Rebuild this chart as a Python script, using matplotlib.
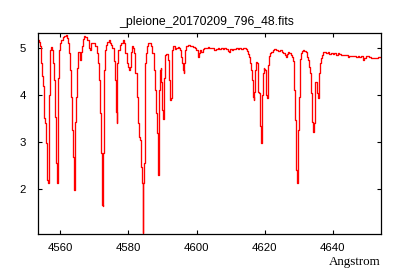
import matplotlib
matplotlib.use("Agg")
import matplotlib.pyplot as plt

wavelength = [
    4553.66, 4554.04, 4554.24, 4554.54, 4554.83, 4555.01, 4555.30, 4555.71, 4555.89, 4556.18,
    4556.48, 4556.59, 4556.77, 4556.89, 4557.06, 4557.36, 4557.77, 4558.06, 4558.36, 4558.65,
    4558.94, 4559.12, 4559.32, 4559.53, 4559.71, 4560.00, 4560.41, 4560.88, 4561.47, 4561.88,
    4562.17, 4562.47, 4562.76, 4563.05, 4563.35, 4563.64, 4563.94, 4564.11, 4564.32, 4564.52,
    4564.70, 4564.90, 4565.20, 4565.40, 4565.70, 4565.87, 4566.08, 4566.37, 4566.67, 4567.05,
    4567.55, 4568.05, 4568.52, 4568.81, 4569.10, 4569.52, 4570.10, 4570.48, 4570.87, 4571.28,
    4571.57, 4571.87, 4572.16, 4572.33, 4572.45, 4572.63, 4572.83, 4573.04, 4573.33, 4573.63,
    4574.01, 4574.30, 4574.60, 4575.10, 4575.48, 4575.77, 4576.06, 4576.36, 4576.65, 4576.86,
    4577.24, 4577.62, 4578.03, 4578.50, 4578.91, 4579.30, 4579.68, 4580.09, 4580.38, 4580.56,
    4580.85, 4581.15, 4581.56, 4581.85, 4582.23, 4582.61, 4583.03, 4583.32, 4583.61, 4583.91,
    4584.08, 4584.29, 4584.49, 4584.67, 4584.88, 4585.08, 4585.37, 4585.67, 4586.05, 4586.43,
    4586.84, 4587.23, 4587.52, 4587.81, 4588.11, 4588.40, 4588.69, 4588.90, 4589.08, 4589.28,
    4589.57, 4589.78, 4589.96, 4590.16, 4590.46, 4590.66, 4590.96, 4591.34, 4591.63, 4591.92,
    4592.22, 4592.42, 4592.60, 4592.80, 4593.01, 4593.30, 4593.60, 4593.89, 4594.27, 4594.66,
    4594.95, 4595.36, 4595.65, 4595.95, 4596.12, 4596.33, 4596.53, 4596.83, 4597.12, 4597.59,
    4597.89, 4598.39, 4598.88, 4599.27, 4599.77, 4600.15, 4600.44, 4600.65, 4600.94, 4601.23,
    4601.62, 4602.00, 4602.50, 4603.00, 4603.58, 4603.97, 4604.47, 4604.93, 4605.43, 4605.93,
    4606.40, 4606.90, 4607.40, 4607.87, 4608.37, 4608.87, 4609.34, 4609.63, 4610.13, 4610.51,
    4611.10, 4611.81, 4612.28, 4612.78, 4613.28, 4613.75, 4614.24, 4614.63, 4615.04, 4615.33,
    4615.63, 4615.92, 4616.21, 4616.39, 4616.59, 4616.80, 4616.98, 4617.18, 4617.39, 4617.56,
    4617.77, 4617.97, 4618.15, 4618.36, 4618.56, 4618.74, 4618.94, 4619.15, 4619.33, 4619.53,
    4619.74, 4619.91, 4620.12, 4620.32, 4620.50, 4620.71, 4620.91, 4621.09, 4621.29, 4621.59,
    4622.09, 4622.56, 4623.05, 4623.64, 4624.23, 4624.82, 4625.20, 4625.61, 4625.99, 4626.29,
    4626.58, 4626.96, 4627.37, 4627.76, 4628.05, 4628.34, 4628.55, 4628.72, 4628.93, 4629.14,
    4629.31, 4629.52, 4629.72, 4629.90, 4630.10, 4630.31, 4630.49, 4630.78, 4631.07, 4631.37,
    4631.78, 4632.16, 4632.54, 4632.95, 4633.25, 4633.54, 4633.72, 4633.92, 4634.13, 4634.30,
    4634.51, 4634.71, 4634.89, 4635.10, 4635.30, 4635.48, 4635.69, 4635.89, 4636.07, 4636.27,
    4636.57, 4636.86, 4637.24, 4637.74, 4638.24, 4638.71, 4639.21, 4639.71, 4640.18, 4640.68,
    4641.18, 4641.65, 4642.15, 4642.65, 4643.11, 4643.61, 4644.11, 4644.58, 4645.08, 4645.58,
    4646.05, 4646.55, 4647.05, 4647.52, 4648.02, 4648.52, 4648.99, 4649.40, 4649.99, 4650.46,
    4650.96, 4651.45, 4651.92, 4652.42, 4652.92, 4653.40, 4653.89, 4654.20,
]

flux = [
    5.17, 5.13, 5.03, 4.68, 4.39, 4.18, 3.51, 3.40, 2.98, 2.19,
    2.12, 3.11, 4.00, 4.68, 4.96, 5.01, 4.96, 4.68, 4.32, 3.54,
    2.55, 2.13, 2.55, 4.36, 4.96, 5.11, 5.17, 5.23, 5.24, 5.27,
    5.21, 5.10, 4.89, 4.53, 3.96, 3.26, 2.69, 1.98, 2.05, 3.43,
    3.96, 4.57, 4.67, 4.90, 4.92, 4.74, 4.90, 5.03, 5.18, 5.24,
    5.23, 5.17, 4.99, 4.96, 5.09, 5.11, 5.10, 5.03, 4.89, 4.67,
    4.32, 3.62, 2.77, 1.66, 1.64, 2.77, 3.62, 4.53, 4.96, 5.06,
    5.13, 5.16, 5.09, 5.06, 4.99, 4.71, 4.32, 3.64, 3.40, 4.67,
    4.96, 5.06, 5.11, 5.16, 5.10, 4.89, 4.67, 4.60, 4.53, 4.60,
    4.92, 5.04, 4.99, 4.89, 4.46, 3.96, 3.40, 3.11, 3.04, 2.47,
    2.12, 1.06, 2.12, 2.55, 3.96, 4.67, 4.89, 5.04, 5.10, 5.11,
    5.03, 4.89, 4.53, 4.11, 3.61, 3.19, 2.33, 2.30, 4.11, 4.53,
    4.57, 4.28, 3.68, 3.48, 3.68, 4.36, 4.85, 4.87, 4.74, 4.32,
    4.21, 3.89, 3.93, 4.53, 4.96, 5.03, 5.04, 4.97, 4.99, 5.01,
    4.99, 4.96, 4.81, 4.67, 4.53, 4.46, 4.67, 4.96, 5.04, 5.05,
    5.06, 5.04, 5.03, 5.01, 4.99, 4.96, 4.90, 4.81, 4.89, 4.96,
    4.90, 4.97, 4.99, 5.00, 5.01, 4.99, 4.99, 4.99, 4.96, 4.98,
    4.99, 4.98, 4.99, 4.98, 4.99, 4.98, 4.94, 4.92, 4.97, 4.96,
    4.97, 4.99, 4.97, 4.99, 4.98, 4.99, 4.99, 4.97, 4.94, 4.87,
    4.81, 4.67, 4.53, 4.32, 3.96, 3.89, 4.07, 4.53, 4.60, 4.69,
    4.67, 4.46, 4.07, 4.04, 3.96, 3.33, 2.97, 3.00, 4.00, 4.46,
    4.57, 4.55, 4.53, 4.11, 4.00, 3.93, 4.25, 4.64, 4.83, 4.89,
    4.92, 4.96, 4.97, 4.96, 4.94, 4.96, 4.92, 4.89, 4.85, 4.80,
    4.87, 4.92, 4.89, 4.85, 4.81, 4.71, 4.53, 4.11, 3.47, 2.90,
    2.40, 2.12, 2.40, 3.26, 3.96, 4.64, 4.76, 4.89, 4.94, 4.96,
    4.94, 4.90, 4.81, 4.74, 4.60, 4.46, 4.04, 3.43, 3.26, 3.22,
    3.40, 3.96, 4.28, 4.28, 4.07, 4.04, 3.93, 4.11, 4.46, 4.67,
    4.78, 4.85, 4.90, 4.90, 4.89, 4.90, 4.87, 4.89, 4.87, 4.89,
    4.85, 4.89, 4.86, 4.85, 4.85, 4.85, 4.84, 4.81, 4.82, 4.82,
    4.82, 4.83, 4.81, 4.82, 4.81, 4.82, 4.74, 4.78, 4.82, 4.83,
    4.81, 4.78, 4.78, 4.78, 4.78, 4.81, 4.80, 4.80,
]

xticks = [4560, 4580, 4600, 4620, 4640]
yticks = [2, 3, 4, 5]
title_text = "_pleione_20170209_796_48.fits"
xlabel_text = "Angstrom"

fig = plt.figure(figsize=(4.0, 2.8), dpi=100)
ax = fig.add_axes([0.0958, 0.164, 0.8575, 0.717])
ax.plot(wavelength, flux, color="#ff0000", lw=0.95, drawstyle="steps-mid")
ax.set_xlim(4553.54, 4654.2)
ax.set_ylim(1.045, 5.306)
ax.set_xticks(xticks)
ax.set_yticks(yticks)
ax.tick_params(direction="in", length=3, width=0.8, top=True, right=True,
               labelsize=8.2, colors="black")
ax.tick_params(axis="x", pad=6.5)
ax.tick_params(axis="y", pad=9)
for lab in ax.get_xticklabels() + ax.get_yticklabels():
    lab.set_family("Liberation Sans")
for s in ax.spines.values():
    s.set_linewidth(0.9)
    s.set_color("black")

fig.text(0.517, 0.9125, title_text, ha="center", va="baseline",
         fontsize=8.8, family="Liberation Sans")
fig.text(381 / 400, (280 - 265) / 280, xlabel_text, ha="right", va="baseline",
         fontsize=9.4, family="Liberation Serif")

fig.savefig("out.png", dpi=100)
